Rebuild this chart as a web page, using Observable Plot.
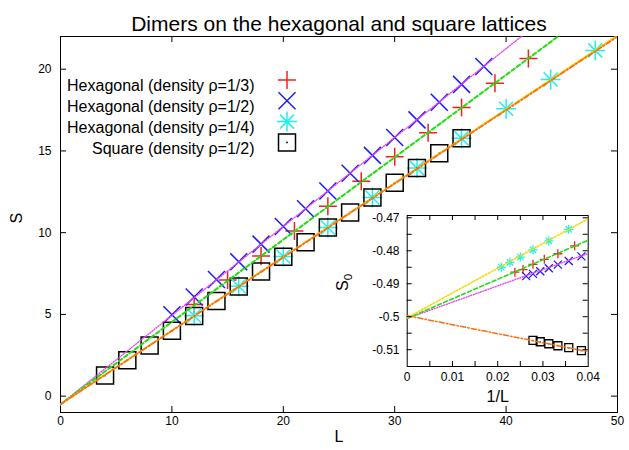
<!DOCTYPE html>
<html><head><meta charset="utf-8">
<script src="https://cdn.jsdelivr.net/npm/d3@7"></script>
<script src="https://cdn.jsdelivr.net/npm/@observablehq/plot@0.6"></script>
<style>
body{margin:0;background:#fff;}
#wrap{position:relative;width:629px;height:450px;overflow:hidden;background:#fff;}
#main{position:absolute;left:0;top:0;}
#inset{position:absolute;left:330px;top:200px;}
</style></head><body>
<div id="wrap"><div id="main"></div><div id="inset"></div></div>
<script>
// ---------- data ----------
const title = "Dimers on the hexagonal and square lattices";
const legendLabels = ["Hexagonal (density ρ=1/3)", "Hexagonal (density ρ=1/2)", "Hexagonal (density ρ=1/4)", "Square (density ρ=1/2)"];

// main panel: S vs L
const hexThirdL = [12, 15, 18, 21, 24, 27, 30, 33, 36, 39, 42];
const hexThirdS = [5.6, 7.1, 8.58, 10.1, 11.62, 13.15, 14.64, 16.12, 17.65, 19.14, 20.66];
const hexHalfL = [10, 12, 14, 16, 18, 20, 22, 24, 26, 28, 30, 32, 34, 36, 38];
const hexHalfS = [4.98, 6.06, 7.14, 8.22, 9.3, 10.38, 11.46, 12.55, 13.64, 14.73, 15.82, 16.9, 17.98, 19.07, 20.16];
const hexQuarterL = [12, 16, 20, 24, 28, 32, 36, 40, 44, 48];
const hexQuarterS = [4.92, 6.72, 8.54, 10.32, 12.15, 13.95, 15.77, 17.58, 19.37, 21.15];
const squareL = [4, 6, 8, 10, 12, 14, 16, 18, 20, 22, 24, 26, 28, 30, 32, 34, 36];
const squareS = [1.26, 2.2, 3.1, 4.0, 4.9, 5.82, 6.71, 7.63, 8.53, 9.42, 10.32, 11.24, 12.15, 13.05, 13.95, 14.86, 15.77];

// fitted lines (end points)
const fitL = [0, 50];
const fitHalfS = [-0.5, 26.7];
const fitThirdS = [-0.5, 24.69];
const fitQuarterS = [-0.5, 22.07];
const fitSquareS = [-0.5, 22.0];

const xTicks = [0, 10, 20, 30, 40, 50];
const yTicks = [0, 5, 10, 15, 20];

// inset: S0 vs 1/L
const thirdInvL = [0.0238, 0.0256, 0.0278, 0.0303, 0.0333, 0.0370];
const thirdS0 = [-0.4865, -0.4857, -0.4841, -0.4826, -0.4809, -0.4785];
const halfInvL = [0.0263, 0.0278, 0.0294, 0.0313, 0.0333, 0.0357, 0.0385];
const halfS0 = [-0.4877, -0.4870, -0.4862, -0.4853, -0.4842, -0.4831, -0.4817];
const quarterInvL = [0.0208, 0.0227, 0.0250, 0.0278, 0.0313, 0.0357];
const quarterS0 = [-0.4850, -0.4835, -0.4819, -0.4797, -0.4770, -0.4735];
const squareInvL = [0.0278, 0.0294, 0.0313, 0.0333, 0.0357, 0.0385];
const squareS0 = [-0.5072, -0.5076, -0.5082, -0.5088, -0.5094, -0.5103];

const invFitX = [0, 0.04];
const invFitQuarter = [-0.5003, -0.4703];
const invFitThird = [-0.5005, -0.4768];
const invFitHalf = [-0.5005, -0.4808];
const invFitSquare = [-0.4997, -0.5106];

const insetXLabels = [0, 0.01, 0.02, 0.03, 0.04];
const insetYLabels = [-0.51, -0.5, -0.49, -0.48, -0.47];
const insetXTicks = [0.005, 0.01, 0.015, 0.02, 0.025, 0.03, 0.035];
const insetYTicks = [-0.51, -0.505, -0.5, -0.495, -0.49, -0.485, -0.48, -0.475, -0.47];

// ---------- helpers ----------
const zipXY = (xs, ys) => xs.map((x, i) => ({x, y: ys[i]}));
const FONT = "Liberation Sans, Arial, Helvetica, sans-serif";

const symPlus = {draw(c, s) {const r = Math.sqrt(s / Math.PI); c.moveTo(-r, 0); c.lineTo(r, 0); c.moveTo(0, -r); c.lineTo(0, r);}};
const symTimes = {draw(c, s) {const r = Math.sqrt(s / Math.PI); c.moveTo(-r, -r); c.lineTo(r, r); c.moveTo(-r, r); c.lineTo(r, -r);}};
const symStar = {draw(c, s) {const r = Math.sqrt(s / Math.PI), k = r * 0.7;
  c.moveTo(-r, 0); c.lineTo(r, 0); c.moveTo(0, -r); c.lineTo(0, r);
  c.moveTo(-k, -k); c.lineTo(k, k); c.moveTo(-k, k); c.lineTo(k, -k);}};
const symSquare = {draw(c, s) {const r = Math.sqrt(s / Math.PI); c.moveTo(-r, -r); c.lineTo(r, -r); c.lineTo(r, r); c.lineTo(-r, r); c.closePath();}};

const C = {red: "#f42020", blue: "#1c1cf0", cyan: "#20f0f0", black: "#000",
  magenta: "#ee44ee", green: "#22dd11", yellow: "#f0dc00", orange: "#ff6a10"};

// ---------- main plot ----------
const M = {top: 36, right: 12, bottom: 38, left: 60, W: 629, H: 450};
const FW = M.W - M.left - M.right, FH = M.H - M.top - M.bottom;

const series = [
  {data: zipXY(hexThirdL, hexThirdS), sym: symPlus, r: 9, color: C.red},
  {data: zipXY(hexHalfL, hexHalfS), sym: symTimes, r: 8.5, color: C.blue},
  {data: zipXY(hexQuarterL, hexQuarterS), sym: symStar, r: 10, color: C.cyan},
  {data: zipXY(squareL, squareS), sym: symSquare, r: 8.5, color: C.black}
];
const lines = [
  {data: zipXY(fitL, fitHalfS), color: C.magenta, dash: "1,1.6", w: 1.4},
  {data: zipXY(fitL, fitThirdS), color: C.green, dash: "4,2.6", w: 2},
  {data: zipXY(fitL, fitQuarterS), color: C.yellow, dash: "1.5,1.8", w: 1.8},
  {data: zipXY(fitL, fitSquareS), color: C.orange, dash: "5,2.2,1.5,2.2", w: 1.8}
];

const mainMarks = [Plot.frame({stroke: "black", strokeWidth: 1})];
for (const s of series) {
  mainMarks.push(Plot.dot(s.data, {x: "x", y: "y", symbol: s.sym, r: s.r, stroke: s.color, fill: "none", strokeWidth: 1.5}));
}
mainMarks.push(Plot.dot(zipXY(squareL, squareS), {x: "x", y: "y", r: 0.9, fill: "black", stroke: "none"}));
for (const l of lines) {
  mainMarks.push(Plot.line(l.data, {x: "x", y: "y", stroke: l.color, strokeWidth: l.w, strokeDasharray: l.dash, clip: true}));
}
// inward ticks on all four sides
mainMarks.push(
  Plot.tickX(xTicks, {x: d => d, insetTop: FH - 6, stroke: "black"}),
  Plot.tickX(xTicks, {x: d => d, insetBottom: FH - 6, stroke: "black"}),
  Plot.tickY(yTicks, {y: d => d, insetRight: FW - 6, stroke: "black"}),
  Plot.tickY(yTicks, {y: d => d, insetLeft: FW - 6, stroke: "black"}),
  Plot.text(xTicks, {x: d => d, text: d => String(d), frameAnchor: "bottom", dy: 12, fontSize: 12, fontFamily: FONT}),
  Plot.text(yTicks, {y: d => d, text: d => String(d), frameAnchor: "left", dx: -9, textAnchor: "end", fontSize: 12, fontFamily: FONT}),
  Plot.text([title], {frameAnchor: "top", dy: -20.5, fontSize: 21, fontFamily: FONT}),
  Plot.text(["L"], {frameAnchor: "bottom", dy: 29, fontSize: 16, fontFamily: FONT}),
  Plot.text(["S"], {frameAnchor: "left", dx: -44, dy: -1, rotate: -90, fontSize: 16, fontFamily: FONT})
);
// legend
legendLabels.forEach((lab, i) => {
  const s = series[i];
  const dy = 43.5 + 20.8 * i;
  mainMarks.push(Plot.text([lab], {frameAnchor: "top-left", dx: 194, dy, textAnchor: "end", fontSize: 16, fontFamily: FONT}));
  mainMarks.push(Plot.dot([lab], {frameAnchor: "top-left", dx: 226.5, dy, symbol: s.sym, r: s.r, stroke: s.color, fill: "none", strokeWidth: 1.5}));
  if (i === 3) mainMarks.push(Plot.dot([lab], {frameAnchor: "top-left", dx: 226.5, dy, r: 0.9, fill: "black", stroke: "none"}));
});

const mainPlot = Plot.plot({
  width: M.W, height: M.H,
  marginTop: M.top, marginRight: M.right, marginBottom: M.bottom, marginLeft: M.left,
  x: {domain: [0, 50], axis: null},
  y: {domain: [-1, 22], axis: null},
  style: {fontFamily: FONT, background: "white", overflow: "visible"},
  marks: mainMarks
});
document.getElementById("main").appendChild(mainPlot);

// ---------- inset ----------
const I = {top: 15, right: 32.3, bottom: 64, left: 76.7, W: 290, H: 230};
const IW = I.W - I.left - I.right, IH = I.H - I.top - I.bottom;
const iSeries = [
  {data: zipXY(thirdInvL, thirdS0), sym: symPlus, r: 4.5, color: C.red},
  {data: zipXY(halfInvL, halfS0), sym: symTimes, r: 4, color: C.blue},
  {data: zipXY(quarterInvL, quarterS0), sym: symStar, r: 4.5, color: C.cyan},
  {data: zipXY(squareInvL, squareS0), sym: symSquare, r: 4, color: C.black}
];
const iLines = [
  {data: zipXY(invFitX, invFitHalf), color: C.magenta, dash: "1,1.6", w: 1.4},
  {data: zipXY(invFitX, invFitThird), color: C.green, dash: "4,2.6", w: 1.6},
  {data: zipXY(invFitX, invFitQuarter), color: C.yellow, dash: "1.5,1.8", w: 1.6},
  {data: zipXY(invFitX, invFitSquare), color: C.orange, dash: "5,2.2,1.5,2.2", w: 1.5}
];
const insetMarks = [Plot.frame({stroke: "black", strokeWidth: 1})];
for (const s of iSeries) {
  insetMarks.push(Plot.dot(s.data, {x: "x", y: "y", symbol: s.sym, r: s.r, stroke: s.color, fill: "none", strokeWidth: 1.3}));
}
insetMarks.push(Plot.dot(zipXY(squareInvL, squareS0), {x: "x", y: "y", r: 0.7, fill: "black", stroke: "none"}));
for (const l of iLines) {
  insetMarks.push(Plot.line(l.data, {x: "x", y: "y", stroke: l.color, strokeWidth: l.w, strokeDasharray: l.dash, clip: true}));
}
insetMarks.push(
  Plot.tickX(insetXTicks, {x: d => d, insetTop: IH - 5, stroke: "black"}),
  Plot.tickX(insetXTicks, {x: d => d, insetBottom: IH - 5, stroke: "black"}),
  Plot.tickY(insetYTicks, {y: d => d, insetRight: IW - 5, stroke: "black"}),
  Plot.tickY(insetYTicks, {y: d => d, insetLeft: IW - 5, stroke: "black"}),
  Plot.text(insetXLabels, {x: d => d, text: d => String(d), frameAnchor: "bottom", dy: 14, fontSize: 12, fontFamily: FONT}),
  Plot.text(insetYLabels, {y: d => d, text: d => String(d), frameAnchor: "left", dx: -7.7, textAnchor: "end", fontSize: 12, fontFamily: FONT}),
  Plot.text(["1/L"], {frameAnchor: "bottom", dy: 35, fontSize: 16, fontFamily: FONT}),
  Plot.text(["S_0"], {frameAnchor: "left", dx: -64, rotate: -90, fontSize: 16, fontFamily: FONT})
);
const insetPlot = Plot.plot({
  width: I.W, height: I.H,
  marginTop: I.top, marginRight: I.right, marginBottom: I.bottom, marginLeft: I.left,
  x: {domain: [0, 0.04], axis: null},
  y: {domain: [-0.5151, -0.4693], axis: null},
  style: {fontFamily: FONT, background: "transparent", overflow: "visible"},
  marks: insetMarks
});
document.getElementById("inset").appendChild(insetPlot);
// subscript for S0
insetPlot.querySelectorAll("text").forEach(t => {
  if (t.textContent === "S_0") t.innerHTML = 'S<tspan dy="0.3em" font-size="0.72em">0</tspan>';
});
</script>
</body></html>
